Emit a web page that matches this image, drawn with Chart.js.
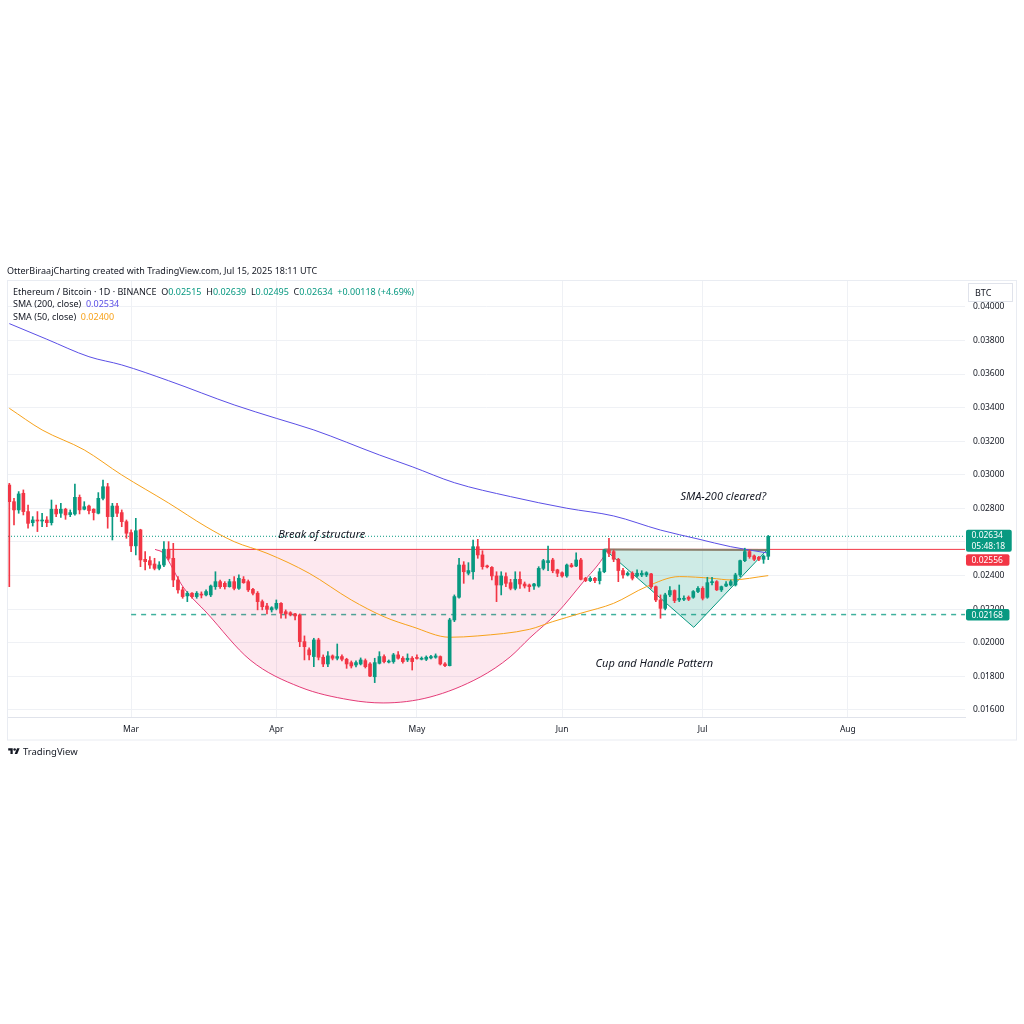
<!DOCTYPE html>
<html><head><meta charset="utf-8">
<script src="https://cdn.jsdelivr.net/npm/chart.js@4.4.1/dist/chart.umd.min.js"></script>
<style>
html,body{margin:0;padding:0;background:#fff;}
#wrap{position:relative;width:1024px;height:1024px;overflow:hidden;font-family:"Noto Sans",sans-serif;color:#131722;}
#c{position:absolute;left:0;top:0;}
.t{position:absolute;white-space:nowrap;line-height:1;}
.g{color:#089981}.p{color:#5b4fe6}.o{color:#f7a21b}
</style></head><body>
<div id="wrap">
<canvas id="c" width="1024" height="1024"></canvas>
<div class="t" id="hdr" style="left:7px;top:265.5px;font-size:9px;"></div>
<div class="t" id="leg1" style="left:13px;top:287px;font-size:9px;"></div>
<div class="t" id="leg2" style="left:13px;top:299px;font-size:9px;"></div>
<div class="t" id="leg3" style="left:13px;top:312px;font-size:9px;"></div>
<div class="t" id="logo" style="left:8px;top:747px;font-size:9.5px;display:flex;align-items:center;gap:3px;">
<svg width="12" height="9" viewBox="0 0 36 28"><path d="M14 22H7V11H0V4h14v18zM28 22h-8l7.5-18h8L28 22z" fill="#131722"/><circle cx="20" cy="8" r="4" fill="#131722"/></svg><span>TradingView</span></div>
</div>
<script>
// ---------- data ----------
const headerText = 'OtterBiraajCharting created with TradingView.com, Jul 15, 2025 18:11 UTC';
const symbolText = 'Ethereum / Bitcoin · 1D · BINANCE';
const startDate = '2025-02-03';
const opens = [
0.02939,0.02840,0.02791,0.02890,0.02781,0.02715,0.02731,0.02725,0.02731,0.02715,
0.02795,0.02771,0.02795,0.02763,0.02767,0.02866,0.02795,0.02814,0.02795,0.02771,
0.02860,0.02929,0.02751,0.02814,0.02775,0.02721,0.02656,0.02577,0.02672,0.02497,
0.02489,0.02469,0.02443,0.02463,0.02557,0.02503,0.02374,0.02315,0.02279,0.02295,
0.02275,0.02285,0.02285,0.02285,0.02334,0.02364,0.02354,0.02334,0.02364,0.02324,
0.02378,0.02364,0.02318,0.02295,0.02245,0.02219,0.02196,0.02205,0.02235,0.02185,
0.02179,0.02172,0.02166,0.02007,0.01958,0.01918,0.02017,0.01914,0.01874,0.01922,
0.01908,0.01918,0.01902,0.01882,0.01868,0.01874,0.01894,0.01874,0.01798,0.01878,
0.01918,0.01885,0.01888,0.01928,0.01908,0.01898,0.01908,0.01908,0.01902,0.01902,
0.01910,0.01914,0.01918,0.01874,0.01864,0.02136,0.02271,0.02463,0.02414,0.02423,
0.02572,0.02523,0.02453,0.02449,0.02398,0.02344,0.02394,0.02358,0.02324,0.02378,
0.02350,0.02344,0.02338,0.02338,0.02443,0.02477,0.02493,0.02434,0.02417,0.02398,
0.02463,0.02457,0.02493,0.02384,0.02370,0.02384,0.02370,0.02423,0.02553,0.02543,
0.02497,0.02430,0.02404,0.02414,0.02398,0.02404,0.02404,0.02410,0.02334,0.02255,
0.02205,0.02285,0.02311,0.02255,0.02259,0.02271,0.02271,0.02305,0.02324,0.02271,
0.02358,0.02364,0.02315,0.02338,0.02344,0.02344,0.02404,0.02489,0.02543,0.02517,
0.02509,0.02497,0.02515];
const highs = [
0.02949,0.02860,0.02900,0.02910,0.02820,0.02751,0.02781,0.02771,0.02751,0.02850,
0.02820,0.02830,0.02801,0.02791,0.02945,0.02880,0.02840,0.02820,0.02798,0.02894,
0.02969,0.02949,0.02830,0.02830,0.02791,0.02731,0.02672,0.02741,0.02676,0.02543,
0.02513,0.02503,0.02483,0.02602,0.02602,0.02592,0.02394,0.02331,0.02305,0.02299,
0.02305,0.02303,0.02315,0.02344,0.02423,0.02374,0.02364,0.02378,0.02394,0.02404,
0.02394,0.02374,0.02324,0.02305,0.02255,0.02235,0.02215,0.02255,0.02239,0.02196,
0.02185,0.02176,0.02172,0.02041,0.01970,0.02027,0.02027,0.01928,0.01947,0.01928,
0.01993,0.01928,0.01908,0.01892,0.01892,0.01910,0.01904,0.01882,0.01908,0.01947,
0.01928,0.01898,0.01937,0.01947,0.01918,0.01934,0.01918,0.01928,0.01916,0.01922,
0.01925,0.01934,0.01922,0.01882,0.02146,0.02285,0.02503,0.02483,0.02477,0.02612,
0.02616,0.02548,0.02463,0.02453,0.02423,0.02423,0.02417,0.02378,0.02423,0.02423,
0.02362,0.02350,0.02354,0.02453,0.02497,0.02576,0.02503,0.02438,0.02423,0.02469,
0.02473,0.02536,0.02503,0.02390,0.02394,0.02390,0.02443,0.02557,0.02622,0.02553,
0.02503,0.02443,0.02423,0.02423,0.02434,0.02429,0.02423,0.02414,0.02338,0.02285,
0.02295,0.02334,0.02315,0.02344,0.02279,0.02279,0.02311,0.02334,0.02334,0.02390,
0.02390,0.02370,0.02338,0.02364,0.02374,0.02414,0.02493,0.02563,0.02553,0.02523,
0.02515,0.02523,0.02639];
const lows = [
0.02334,0.02701,0.02771,0.02761,0.02682,0.02695,0.02662,0.02691,0.02691,0.02701,
0.02751,0.02747,0.02735,0.02751,0.02759,0.02767,0.02791,0.02767,0.02731,0.02767,
0.02850,0.02682,0.02612,0.02751,0.02691,0.02622,0.02543,0.02523,0.02453,0.02434,
0.02443,0.02434,0.02434,0.02453,0.02493,0.02334,0.02295,0.02265,0.02245,0.02265,
0.02265,0.02267,0.02279,0.02275,0.02318,0.02324,0.02320,0.02331,0.02315,0.02318,
0.02354,0.02305,0.02285,0.02196,0.02196,0.02172,0.02183,0.02196,0.02146,0.02146,
0.02160,0.02136,0.01977,0.01898,0.01898,0.01858,0.01898,0.01858,0.01858,0.01898,
0.01898,0.01892,0.01848,0.01850,0.01856,0.01868,0.01850,0.01798,0.01763,0.01874,
0.01880,0.01880,0.01878,0.01902,0.01878,0.01888,0.01838,0.01902,0.01898,0.01894,
0.01904,0.01908,0.01868,0.01858,0.01862,0.02126,0.02265,0.02354,0.02404,0.02378,
0.02503,0.02438,0.02445,0.02374,0.02245,0.02285,0.02334,0.02315,0.02315,0.02324,
0.02326,0.02305,0.02318,0.02331,0.02434,0.02429,0.02417,0.02394,0.02390,0.02390,
0.02449,0.02453,0.02374,0.02364,0.02364,0.02358,0.02350,0.02417,0.02513,0.02483,
0.02364,0.02384,0.02398,0.02374,0.02390,0.02394,0.02394,0.02324,0.02245,0.02146,
0.02196,0.02275,0.02239,0.02245,0.02251,0.02251,0.02265,0.02299,0.02255,0.02265,
0.02344,0.02311,0.02305,0.02334,0.02338,0.02338,0.02394,0.02483,0.02503,0.02489,
0.02489,0.02473,0.02495];
const closes = [
0.02840,0.02791,0.02886,0.02781,0.02711,0.02731,0.02725,0.02728,0.02715,0.02795,
0.02767,0.02795,0.02761,0.02775,0.02866,0.02791,0.02810,0.02787,0.02775,0.02860,
0.02929,0.02751,0.02814,0.02771,0.02721,0.02652,0.02577,0.02667,0.02493,0.02483,
0.02463,0.02443,0.02463,0.02557,0.02503,0.02374,0.02315,0.02275,0.02295,0.02275,
0.02295,0.02284,0.02305,0.02338,0.02364,0.02334,0.02334,0.02364,0.02324,0.02384,
0.02358,0.02315,0.02295,0.02245,0.02215,0.02199,0.02209,0.02235,0.02176,0.02172,
0.02166,0.02160,0.02007,0.01977,0.01928,0.02017,0.01914,0.01874,0.01922,0.01908,
0.01918,0.01902,0.01874,0.01862,0.01882,0.01898,0.01858,0.01802,0.01882,0.01918,
0.01888,0.01888,0.01928,0.01908,0.01888,0.01908,0.01888,0.01907,0.01908,0.01914,
0.01918,0.01922,0.01874,0.01864,0.02136,0.02275,0.02463,0.02423,0.02430,0.02572,
0.02523,0.02453,0.02452,0.02398,0.02344,0.02398,0.02354,0.02324,0.02378,0.02350,
0.02338,0.02334,0.02350,0.02443,0.02489,0.02489,0.02429,0.02414,0.02398,0.02463,
0.02453,0.02493,0.02378,0.02370,0.02384,0.02370,0.02423,0.02553,0.02533,0.02497,
0.02430,0.02404,0.02414,0.02384,0.02414,0.02414,0.02417,0.02334,0.02255,0.02205,
0.02285,0.02311,0.02251,0.02265,0.02265,0.02259,0.02305,0.02324,0.02265,0.02358,
0.02364,0.02315,0.02334,0.02350,0.02364,0.02404,0.02489,0.02543,0.02513,0.02497,
0.02497,0.02516,0.02634];

// SMA lines (day offset from startDate, value)
const sma200Days   = [0, 8, 17, 24, 34, 48, 57, 65, 79, 86, 95, 107, 119, 129, 139, 147, 154, 162];
const sma200Values = [0.03900,0.03807,0.03703,0.03654,0.03560,0.03416,0.03336,0.03267,0.03118,0.03048,0.02953,0.02870,0.02801,0.02755,0.02671,0.02618,0.02572,0.02534];
const sma50Days    = [0, 7, 16, 24, 34, 42, 48, 55, 64, 73, 80, 86, 94, 100, 111, 116, 122, 129, 136, 143, 150, 154, 162];
const sma50Values  = [0.03396,0.03267,0.03148,0.02999,0.02832,0.02691,0.02602,0.02533,0.02414,0.02255,0.02155,0.02096,0.02033,0.02041,0.02080,0.02126,0.02176,0.02235,0.02334,0.02394,0.02384,0.02374,0.02400];

// drawings
const cupDays   = [31.1, 32.8, 37.1, 42.2, 51.4, 62.0, 72.7, 79.8, 89.8, 100.5, 106.9, 111.1, 116.9, 122.5, 126.7, 127.6];
const cupValues = [0.02556,0.02535,0.02332,0.02177,0.01898,0.01737,0.01660,0.01642,0.01677,0.01796,0.01916,0.02029,0.02177,0.02362,0.02505,0.02552];
const handleDays   = [127.1, 146.1, 161.7];
const handleValues = [0.02556, 0.02092, 0.02552];
const breakLevel = 0.02556, breakStartDay = 34;
const supportLevel = 0.02168, supportStartDay = 26;
const countdown = '05:48:18';
const notes = [
  {text:'Break of structure', day:66.7, value:0.02640},
  {text:'SMA-200 cleared?', day:152.4, value:0.02870},
  {text:'Cup and Handle Pattern', day:137.7, value:0.01872}
];
const priceTicks = [0.016,0.018,0.020,0.022,0.024,0.026,0.028,0.030,0.032,0.034,0.036,0.038,0.040];
const monthLabels = ['Mar','Apr','May','Jun','Jul','Aug'];
const monthDates  = ['2025-03-01','2025-04-01','2025-05-01','2025-06-01','2025-07-01','2025-08-01'];

// ---------- build ----------
const GREEN='#089981', RED='#f23645';
const dayOf = d => Math.round((Date.parse(d) - Date.parse(startDate))/86400000);
const monthDays = monthDates.map(dayOf);
const n = closes.length;
const candleColors = closes.map((c,i)=> c>=opens[i]?GREEN:RED);
const wickData = lows.map((l,i)=>({x:i, y:[l, highs[i]]}));
const bodyData = opens.map((o,i)=>({x:i, y:[o, closes[i]]}));
const last = n-1;
const lastClose = closes[last];
const xMin = -0.28, xMax = 204;

const f5 = v => v.toFixed(5);
document.getElementById('hdr').textContent = headerText;
const chg = closes[last]-closes[last-1];
const pct = chg/closes[last-1]*100;
document.getElementById('leg1').innerHTML = symbolText +
 '&nbsp;&nbsp;O<span class="g">'+f5(opens[last])+'</span>&nbsp;&nbsp;H<span class="g">'+f5(highs[last])+
 '</span>&nbsp;&nbsp;L<span class="g">'+f5(lows[last])+'</span>&nbsp;&nbsp;C<span class="g">'+f5(closes[last])+
 '</span>&nbsp;&nbsp;<span class="g">'+(chg>=0?'+':'')+f5(chg)+' ('+(chg>=0?'+':'')+pct.toFixed(2)+'%)</span>';
document.getElementById('leg2').innerHTML = 'SMA (200, close)&nbsp;&nbsp;<span class="p">'+f5(sma200Values[sma200Values.length-1])+'</span>';
document.getElementById('leg3').innerHTML = 'SMA (50, close)&nbsp;&nbsp;<span class="o">'+f5(sma50Values[sma50Values.length-1])+'</span>';

Chart.defaults.font.family = '"Noto Sans", sans-serif';
Chart.defaults.color = '#131722';

function badge(ctx, left, top, h, color, lines, size){
  ctx.font = size+'px "Noto Sans"';
  let w = Math.max(...lines.map(s=>ctx.measureText(s).width)) + 12;
  ctx.fillStyle = color;
  ctx.beginPath(); ctx.roundRect(left, top, w, h, 2); ctx.fill();
  ctx.fillStyle = '#fff'; ctx.textAlign='left'; ctx.textBaseline='middle';
  const lh = h/lines.length;
  lines.forEach((s,k)=> ctx.fillText(s, left+5.5, top + lh*k + lh/2 + 0.5));
}

const decor = {
  id:'decor',
  beforeDraw(chart){ const c=chart.ctx; c.save(); c.fillStyle='#fff'; c.fillRect(0,0,chart.width,chart.height); c.restore(); },
  afterDraw(chart){
    const {ctx, chartArea:a, scales:{x,y}} = chart;
    ctx.save();
    // notes
    ctx.font = 'italic 11px "Noto Sans"'; ctx.fillStyle='#131722';
    ctx.textAlign='center'; ctx.textBaseline='middle';
    notes.forEach(nt => ctx.fillText(nt.text, x.getPixelForValue(nt.day), y.getPixelForValue(nt.value)));
    // frame
    ctx.strokeStyle='#e9ecf2'; ctx.lineWidth=1;
    ctx.strokeRect(7.5, a.top-0.5, 1016-7, 740-a.top+0.5);
    // BTC box
    ctx.fillStyle='#fff'; ctx.fillRect(968, a.top+2, 45, 19);
    ctx.strokeStyle='#e0e3eb';
    ctx.strokeRect(968.5, a.top+2.5, 44, 18);
    ctx.fillStyle='#131722'; ctx.font='9px "Noto Sans"'; ctx.textAlign='left'; ctx.textBaseline='middle';
    ctx.fillText('BTC', 975, a.top+12);
    // badges
    const bl = a.right+1;
    const ly = y.getPixelForValue(lastClose);
    const lTop = ly-6.5;
    badge(ctx, bl, lTop, 22, GREEN, [f5(lastClose), countdown], 8.5);
    let by = y.getPixelForValue(breakLevel) - 5.5;
    if (by < lTop+24) by = lTop+24.5;
    badge(ctx, bl, by, 11.5, RED, [f5(breakLevel)], 8.5);
    badge(ctx, bl, y.getPixelForValue(supportLevel)-5.5, 11.5, GREEN, [f5(supportLevel)], 8.5);
    ctx.restore();
  }
};

const line = (days, vals) => days.map((d,i)=>({x:d, y:vals[i]}));

new Chart(document.getElementById('c'), {
  type:'bar',
  data:{ datasets:[
    {type:'bar', data:bodyData, backgroundColor:candleColors, barThickness:3, minBarLength:1, grouped:false, order:0, borderWidth:0},
    {type:'bar', data:wickData, backgroundColor:candleColors, barThickness:1, grouped:false, order:1, borderWidth:0},
    {type:'line', data:line(sma200Days, sma200Values), borderColor:'#5b4fe6', borderWidth:1, pointRadius:0, cubicInterpolationMode:'monotone', order:2},
    {type:'line', data:line(sma50Days, sma50Values), borderColor:'#f7a21b', borderWidth:1, pointRadius:0, cubicInterpolationMode:'monotone', order:3},
    {type:'line', data:[{x:handleDays[0],y:handleValues[0]},{x:handleDays[2],y:handleValues[2]}], borderColor:'#8a7f6c', borderWidth:2, pointRadius:0, order:4},
    {type:'line', data:line(handleDays, handleValues), borderColor:GREEN, borderWidth:1, pointRadius:0, fill:{value:breakLevel}, backgroundColor:'rgba(8,153,129,0.2)', order:5},
    {type:'line', data:line(cupDays, cupValues), borderColor:'rgba(225,40,105,0.9)', borderWidth:1, pointRadius:0, cubicInterpolationMode:'monotone', fill:{value:breakLevel}, backgroundColor:'rgba(233,30,99,0.1)', order:6},
    {type:'line', data:[{x:breakStartDay,y:breakLevel},{x:xMax,y:breakLevel}], borderColor:RED, borderWidth:1, pointRadius:0, order:7},
    {type:'line', data:[{x:supportStartDay,y:supportLevel},{x:xMax,y:supportLevel}], borderColor:'#3fb19d', borderWidth:1.5, borderDash:[5,5], pointRadius:0, order:8},
    {type:'line', data:[{x:xMin,y:lastClose},{x:xMax,y:lastClose}], borderColor:GREEN, borderWidth:1, borderDash:[1,2], pointRadius:0, order:9}
  ]},
  options:{
    responsive:false, animation:false, events:[],
    layout:{padding:{left:8, top:281, right:8, bottom:284}},
    plugins:{legend:{display:false}, tooltip:{enabled:false}, title:{display:false}},
    scales:{
      x:{type:'linear', min:xMin, max:xMax, offset:false, bounds:'data',
        grid:{color:'#eff1f5', offset:false, drawTicks:false},
        border:{display:true, color:'#e0e3eb'},
        afterBuildTicks: s => { s.ticks = monthDays.map(v=>({value:v})); },
        afterFit: s => { s.height = 23; },
        ticks:{padding:7, font:{size:8.5}, color:'#131722', autoSkip:false, maxRotation:0,
          callback: v => monthLabels[monthDays.indexOf(v)] ?? ''}
      },
      y:{type:'linear', position:'right', min:0.015583, max:0.041536, bounds:'data', beginAtZero:false,
        grid:{color:'#eff1f5', drawTicks:false},
        border:{display:false},
        afterBuildTicks: s => { s.ticks = priceTicks.map(v=>({value:v})); },
        afterFit: s => { s.width = 51; },
        ticks:{padding:8, font:{size:8.5}, color:'#131722', autoSkip:false, callback: v => v.toFixed(5)}
      }
    }
  },
  plugins:[decor]
});
</script>
</body></html>
